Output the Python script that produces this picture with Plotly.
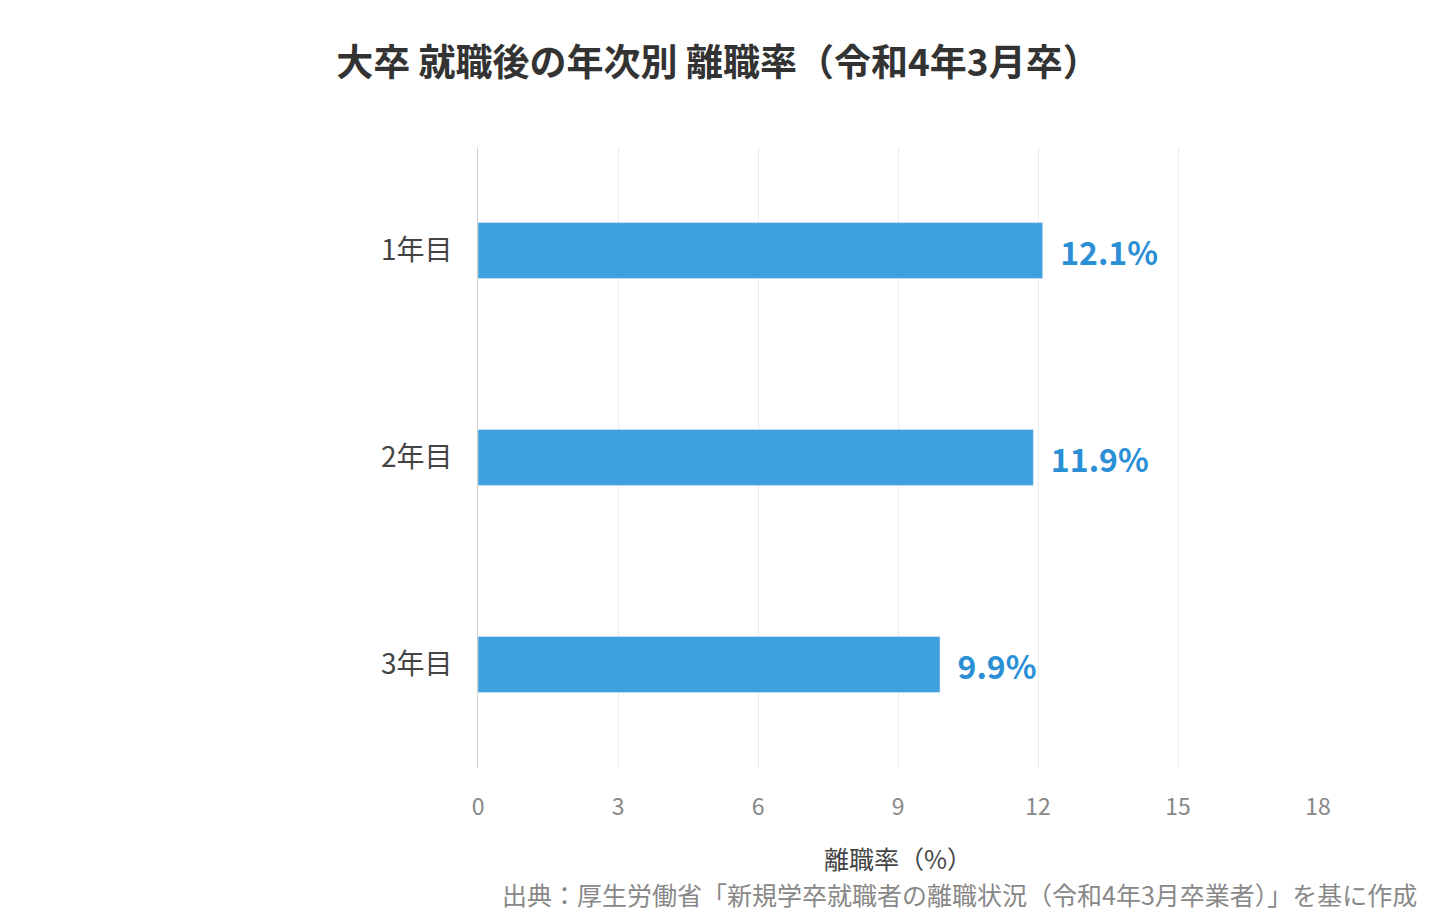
import plotly.graph_objects as go

categories = ["1年目", "2年目", "3年目"]
values = [12.1, 11.9, 9.9]
labels = ["  12.1%", "  11.9%", "  9.9%"]
ticks = [0, 3, 6, 9, 12, 15, 18]

font = "Noto Sans CJK JP"
fig = go.Figure(go.Bar(
    x=values, y=categories, orientation="h",
    marker=dict(color="#3fa0de"), width=0.27,
    text=["<b>%s</b>" % t for t in labels], textposition="outside",
    textfont=dict(color="#2b8fd6", size=32, family=font),
    cliponaxis=False,
))
fig.update_layout(
    width=1440, height=920, paper_bgcolor="white", plot_bgcolor="white",
    margin=dict(l=470, r=130, t=139, b=160, autoexpand=False),
    title=dict(text="<b>大卒 就職後の年次別 離職率（令和4年3月卒）</b>", x=0.493, xanchor="center",
               y=0.94, yanchor="middle", font=dict(size=37, color="#333", family=font)),
    xaxis=dict(range=[0, 18], tickvals=ticks, showgrid=True, gridcolor="#ebebeb", zeroline=False,
               automargin=False,
               tickfont=dict(size=23, color="#888", family=font), ticks="outside", ticklen=18,
               tickcolor="rgba(0,0,0,0)",
               title=dict(text="離職率（%）", font=dict(size=25, color="#444", family=font), standoff=30)),
    yaxis=dict(autorange="reversed", showline=True, linecolor="#d0d0d0", linewidth=1, automargin=False,
               tickfont=dict(size=28, color="#444", family=font), ticksuffix="   "),
    showlegend=False,
    annotations=[dict(text="出典：厚生労働省「新規学卒就職者の離職状況（令和4年3月卒業者）」を基に作成",
                      xref="paper", yref="paper", x=1.12, y=-0.203, xanchor="right", yanchor="middle",
                      showarrow=False, font=dict(size=25, color="#888", family=font))],
)
fig.write_html("out.html")
